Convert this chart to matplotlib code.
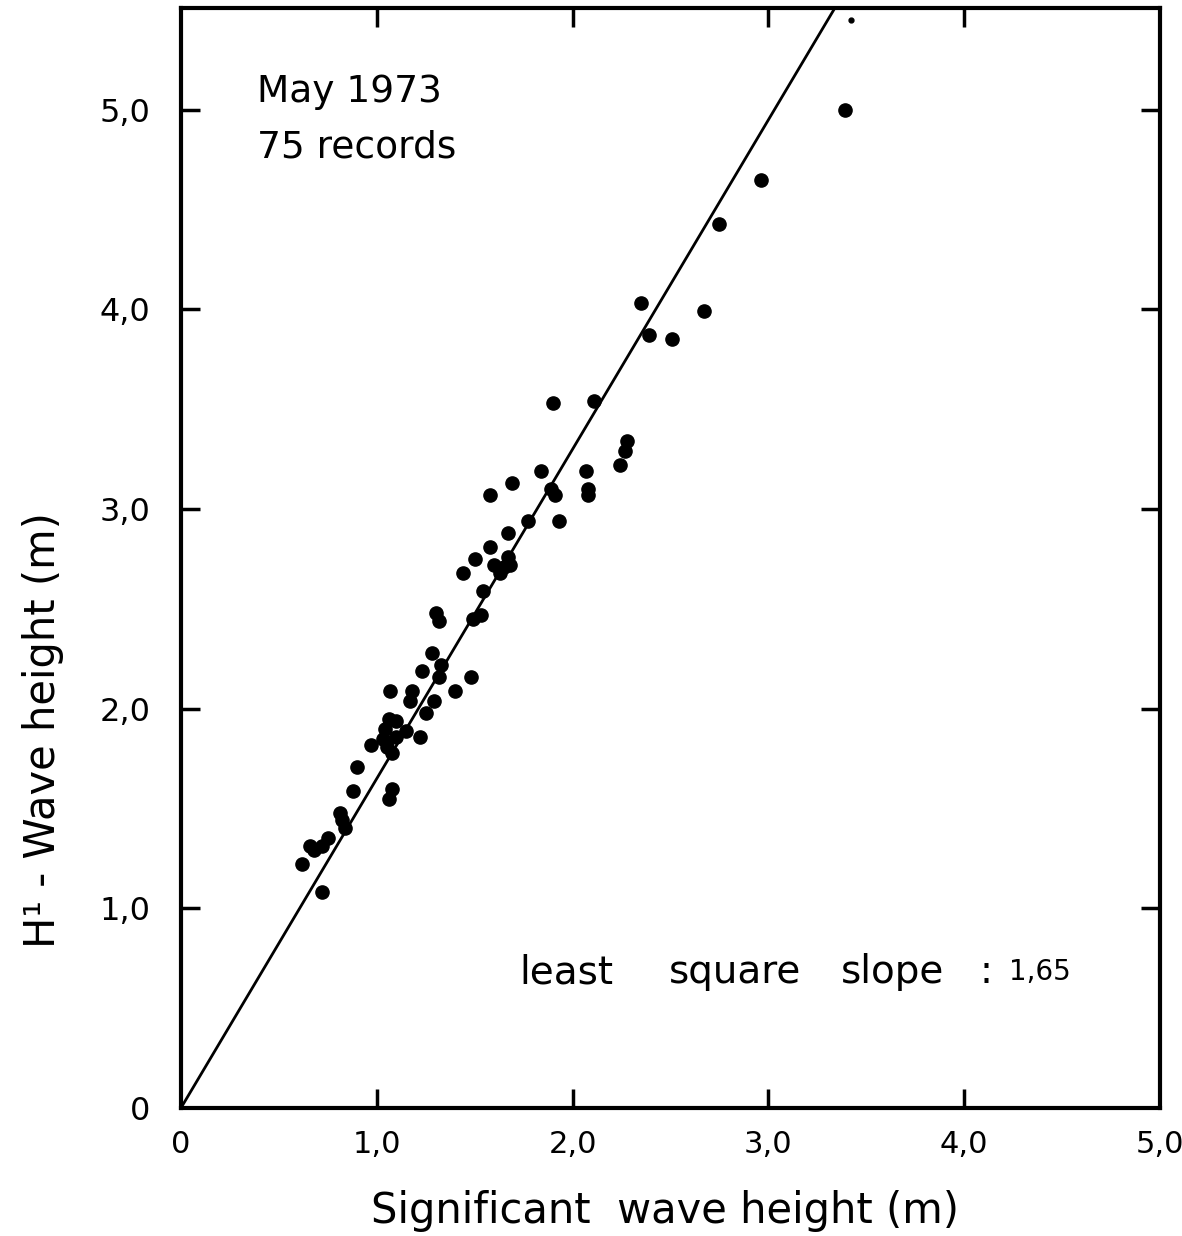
import numpy as np
import matplotlib.pyplot as plt

# significant wave height (m) and H1 wave height (m), one pair per record
hs = [0.62, 0.66, 0.68, 0.72, 0.75, 0.72, 0.81, 0.82, 0.84, 0.88,
      0.90, 0.97, 1.03, 1.04, 1.05, 1.06, 1.07, 1.08, 1.08, 1.06,
      1.10, 1.10, 1.15, 1.17, 1.18, 1.22, 1.23, 1.25, 1.28, 1.29,
      1.30, 1.32, 1.32, 1.33, 1.40, 1.44, 1.48, 1.49, 1.50, 1.53,
      1.54, 1.58, 1.58, 1.60, 1.63, 1.65, 1.67, 1.67, 1.68, 1.69,
      1.77, 1.84, 1.89, 1.90, 1.91, 1.93, 2.07, 2.08, 2.08, 2.11,
      2.24, 2.27, 2.28, 2.35, 2.39, 2.51, 2.67, 2.75, 2.96, 3.39]
h1 = [1.22, 1.31, 1.29, 1.31, 1.35, 1.08, 1.48, 1.44, 1.40, 1.59,
      1.71, 1.82, 1.85, 1.90, 1.81, 1.95, 2.09, 1.78, 1.60, 1.55,
      1.94, 1.86, 1.89, 2.04, 2.09, 1.86, 2.19, 1.98, 2.28, 2.04,
      2.48, 2.44, 2.16, 2.22, 2.09, 2.68, 2.16, 2.45, 2.75, 2.47,
      2.59, 2.81, 3.07, 2.72, 2.68, 2.71, 2.88, 2.76, 2.72, 3.13,
      2.94, 3.19, 3.10, 3.53, 3.07, 2.94, 3.19, 3.10, 3.07, 3.54,
      3.22, 3.29, 3.34, 4.03, 3.87, 3.85, 3.99, 4.43, 4.65, 5.00]
# faint mark at the top edge
hs_small = [3.42]
h1_small = [5.45]

slope = 1.65
ticks = [1.0, 2.0, 3.0, 4.0, 5.0]
tick_labels = ["1,0", "2,0", "3,0", "4,0", "5,0"]

fig = plt.figure(figsize=(11.82, 12.36), dpi=100)
ax = fig.add_axes([0.1531, 0.1036, 0.8283, 0.8899])

ax.plot(hs, h1, "o", color="black", ms=9.5, mec="black")
ax.plot(hs_small, h1_small, "o", color="black", ms=3.5)

xl = np.array([0, 5.5 / slope])
ax.plot(xl, slope * xl, color="black", lw=2)

ax.set_xlim(0, 5.0)
ax.set_ylim(0, 5.51)

ax.set_xticks([0] + ticks)
ax.set_xticklabels(["0"] + tick_labels)
ax.set_yticks([0] + ticks)
ax.set_yticklabels(["0"] + tick_labels)
ax.tick_params(axis="both", direction="in", length=14, width=2.5,
               labelsize=23, top=True, right=True)
ax.tick_params(axis="x", pad=16, labelsize=22)
ax.tick_params(axis="y", pad=22)
# no tick marks at the origin
for t in ax.xaxis.get_major_ticks()[:1] + ax.yaxis.get_major_ticks()[:1]:
    t.tick1line.set_visible(False)
    t.tick2line.set_visible(False)
# no tick at the top-right corner
ax.xaxis.get_major_ticks()[-1].tick1line.set_visible(False)
ax.xaxis.get_major_ticks()[-1].tick2line.set_visible(False)

for s in ax.spines.values():
    s.set_linewidth(3)

fig.text(0.5626, 0.0105, "Significant  wave height (m)", ha="center",
         va="baseline", fontsize=30)
fig.text(0.036, 0.409, "H¹ - Wave height (m)", rotation=90, ha="center",
         va="center", fontsize=30)

ax.text(0.39, 5.09, "May 1973", fontsize=27, va="center", ha="left")
ax.text(0.39, 4.81, "75 records", fontsize=27, va="center", ha="left")

# slope annotation, words spaced out
for word, xw in [("least", 1.73), ("square", 2.49), ("slope", 3.37), (":", 4.08)]:
    ax.text(xw, 0.68, word, fontsize=28, va="center", ha="left")
ax.text(4.23, 0.68, "1,65", fontsize=20, va="center", ha="left")

fig.savefig("out.png", dpi=100)
